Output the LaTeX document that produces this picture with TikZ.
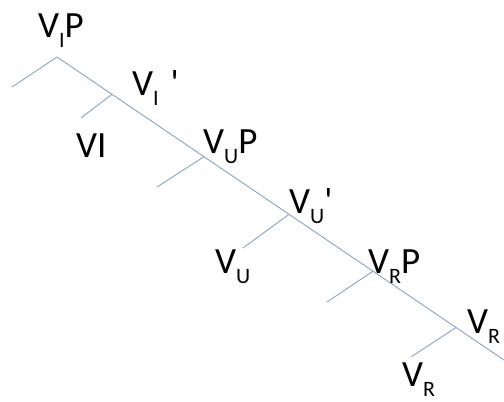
\documentclass[tikz,border=0pt]{standalone}
\usepackage{fontspec}
\setmainfont{Carlito}
\newcommand{\lblfont}{\fontsize{37}{40}\selectfont}
\newcommand{\sbs}[1]{\raisebox{-10pt}{\fontsize{22}{24}\selectfont #1}}
\definecolor{linec}{RGB}{135,163,196}
\begin{document}
\begin{tikzpicture}[x=1pt,y=-1pt,
  branch/.style={draw=linec, line width=0.9pt},
  lab/.style={anchor=base west, inner sep=0pt, font=\lblfont, text=black}]
\useasboundingbox (0,0) rectangle (504,402);
\clip (0,0) rectangle (504,402);
% main spine
\coordinate (top) at (57,57);
\coordinate (endR) at (504,360);
\coordinate (b1) at (112,94.3);
\coordinate (b2) at (204,156.7);
\coordinate (b3) at (289,214.3);
\coordinate (b4) at (373,271.2);
\coordinate (b5) at (456,327.5);
% branch ends
\coordinate (e0) at (12,87);
\coordinate (e1) at (81,118);
\coordinate (e2) at (157,187);
\coordinate (e3) at (243,248);
\coordinate (e4) at (327,302);
\coordinate (e5) at (411,357);
\draw[branch] (top) -- (b1) -- (b2) -- (b3) -- (b4) -- (b5) -- (endR);
\draw[branch] (top) -- (e0);
\draw[branch] (b1) -- (e1);
\draw[branch] (b2) -- (e2);
\draw[branch] (b3) -- (e3);
\draw[branch] (b4) -- (e4);
\draw[branch] (b5) -- (e5);
% labels
\node[lab] (vip) at (38,37) {V\sbs{I}P};
\node[lab] (vib) at (132,95) {V\sbs{I}\hspace{12pt}\textquotesingle};
\node[lab] (vi) at (76,157) {VI};
\node[lab] (vup) at (203,153) {V\sbs{U}P};
\node[lab] (vub) at (289,213) {V\sbs{U}\textquotesingle};
\node[lab] (vu) at (215,273) {V\sbs{U}};
\node[lab] (vrp) at (368,273) {V\sbs{R}P};
\node[lab] (vrb) at (467,333) {V\sbs{R}};
\node[lab] (vr) at (402,386) {V\sbs{R}};
\end{tikzpicture}
\end{document}
